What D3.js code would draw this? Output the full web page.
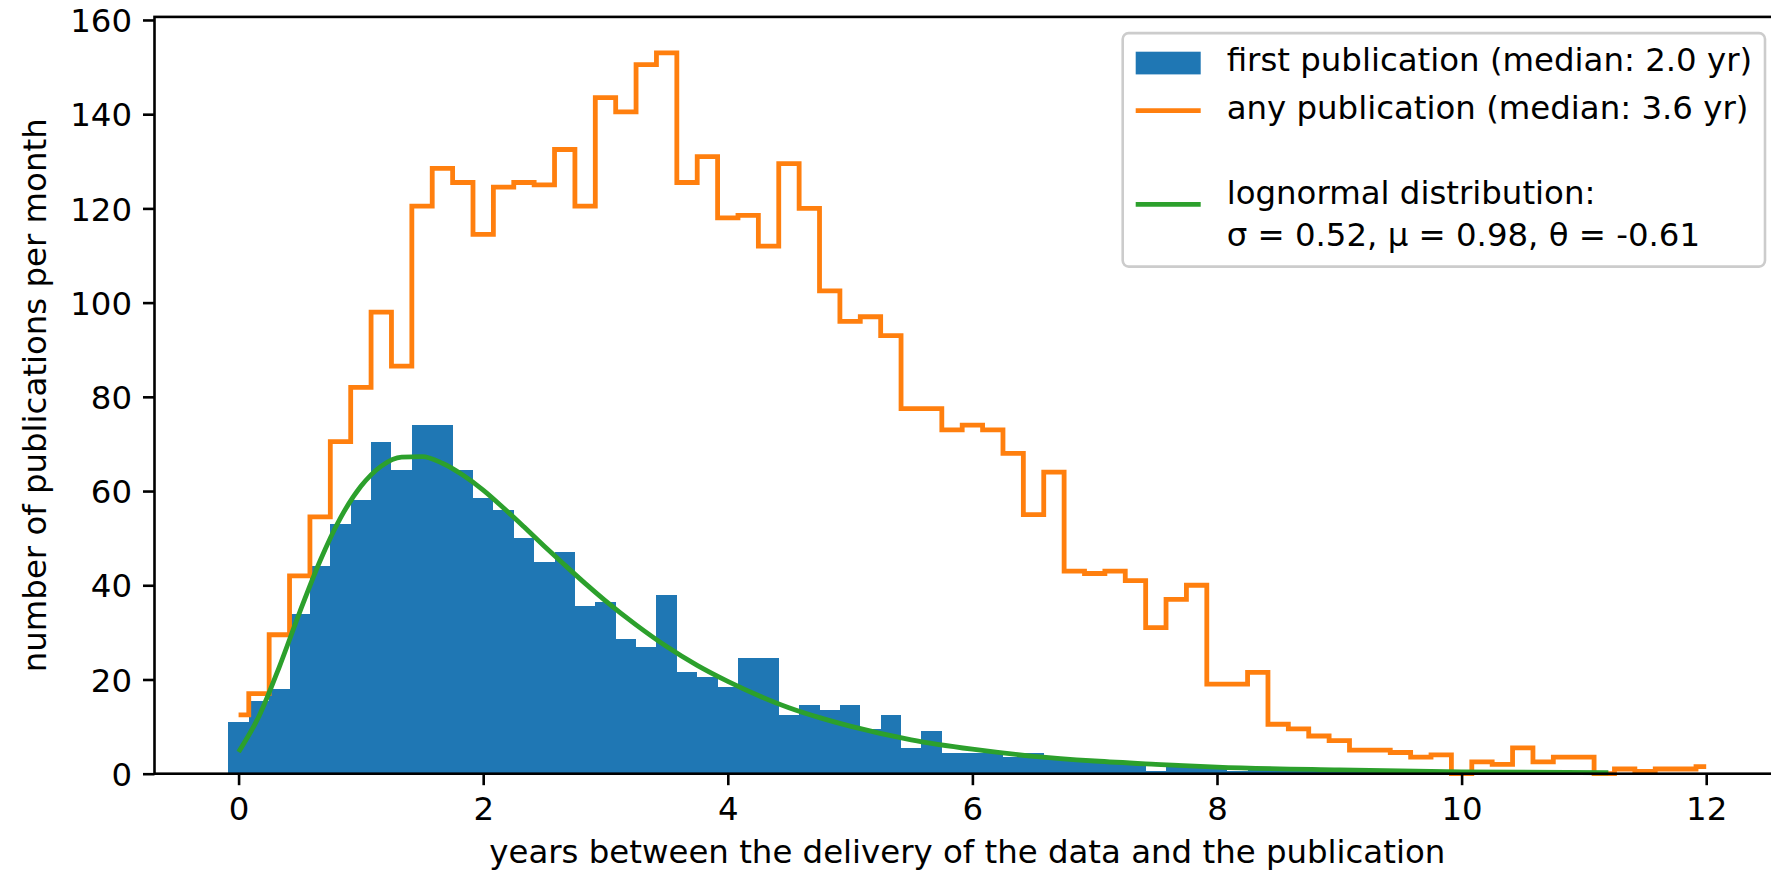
<!DOCTYPE html>
<html>
<head>
<meta charset="utf-8">
<script src="https://cdn.jsdelivr.net/npm/d3@7"></script>
<style>
  html, body { margin: 0; padding: 0; background: #fff; }
  svg { display: block; }
  text { font-family: "DejaVu Sans", sans-serif; fill: #000; }
</style>
</head>
<body>
<svg id="chart" width="1771" height="872"></svg>
<script>
// ---------------- data ----------------
// bin width: 2 months, bins centred on k/6 years
const binWidth = 1 / 6;

// first publication, per bin (blue bars)
const firstPub = [11, 15.5, 18, 34, 44, 53, 58, 70.5, 64.5, 74, 74, 64.5, 58.5, 56, 50, 45, 47,
  35.5, 36.5, 28.5, 27, 38, 21.5, 20.5, 18.5, 24.5, 24.5, 12.5, 14.5, 13.5, 14.5, 9.5, 12.5,
  5.5, 9, 4.5, 4.5, 4.5, 3.5, 4.5, 3.5, 3, 2.5, 2, 2, 0.5, 1.5, 1.5, 1, 0.5, 1, 1, 0.5, 0.5,
  0.5, 0.5, 0.5, 0.5, 0.5];

// any publication, per bin (orange step line)
const anyPub = [12.5, 17, 29.5, 42, 54.5, 70.5, 82, 98, 86.5, 120.5, 128.5, 125.5, 114.5,
  124.5, 125.5, 125, 132.5, 120.5, 143.5, 140.5, 150.5, 153, 125.5, 131, 118, 118.5, 112,
  129.5, 120, 102.5, 96, 97, 93, 77.5, 77.5, 73, 74, 73, 68, 55, 64, 43, 42.5, 43, 41, 31,
  37, 40, 19, 19, 21.5, 10.5, 9.5, 8, 7, 5, 5, 4.5, 3.5, 4, 0, 2.5, 2, 5.5, 2.5, 3.5, 3.5,
  0, 1, 0.5, 1, 1, 1.5];

// lognormal fit curve (green)
const fitX = [0, 0.1667, 0.3333, 0.5, 0.6667, 0.8333, 1, 1.1667, 1.3333, 1.5, 1.6667, 1.8333,
  2, 2.1667, 2.3333, 2.5, 2.6667, 2.8333, 3, 3.25, 3.5, 3.75, 4, 4.25, 4.5, 4.75, 5, 5.5, 6,
  6.5, 7, 7.5, 8, 9, 10, 11.2];
const fitY = [4.6, 12.2, 22.7, 34.3, 45.2, 54.3, 61.0, 65.3, 67.2, 67.3, 65.9, 63.4, 60.2,
  56.4, 52.4, 48.3, 44.3, 40.4, 36.7, 31.6, 27.0, 23.0, 19.6, 16.6, 14.0, 11.9, 10.1, 7.2,
  5.2, 3.7, 2.7, 2.0, 1.4, 0.8, 0.4, 0.2];

const xTicks = [0, 2, 4, 6, 8, 10, 12];
const yTicks = [0, 20, 40, 60, 80, 100, 120, 140, 160];

const xLabel = "years between the delivery of the data and the publication";
const yLabel = "number of publications per month";
const legendLabels = [
  ["first publication (median: 2.0 yr)"],
  ["any publication (median: 3.6 yr)"],
  ["lognormal distribution:", "σ = 0.52, μ = 0.98, θ = -0.61"]
];
const colors = { first: "#1f77b4", any: "#ff7f0e", fit: "#2ca02c" };

// ---------------- layout ----------------
const FS = 32.4;
const plot = { left: 154.5, right: 1780.1, top: 16.9, bottom: 773.7 };

const x = d3.scaleLinear().domain([-0.6875, 12.6042]).range([plot.left, plot.right]);
const y = d3.scaleLinear().domain([0, 160.65]).range([plot.bottom, plot.top]);

const svg = d3.select("#chart");
svg.append("rect").attr("width", 1771).attr("height", 872).attr("fill", "#fff");

// bars
svg.append("g").selectAll("rect").data(firstPub).join("rect")
  .attr("x", (d, i) => x(i * binWidth - binWidth / 2))
  .attr("width", (d, i) => x(i * binWidth + binWidth / 2) - x(i * binWidth - binWidth / 2))
  .attr("y", d => y(d))
  .attr("height", d => y(0) - y(d))
  .attr("fill", colors.first)
  .attr("shape-rendering", "crispEdges");

// orange step line (steps-mid)
const stepLine = d3.line().x((d, i) => x(i * binWidth)).y(d => y(d)).curve(d3.curveStep);
svg.append("path").datum(anyPub).attr("d", stepLine)
  .attr("fill", "none").attr("stroke", colors.any).attr("stroke-width", 4.8)
  .attr("stroke-linejoin", "miter").attr("stroke-linecap", "butt");

// green fit
const fitLine = d3.line().x(d => x(d[0])).y(d => y(d[1])).curve(d3.curveMonotoneX);
svg.append("path").datum(fitX.map((v, i) => [v, fitY[i]])).attr("d", fitLine)
  .attr("fill", "none").attr("stroke", colors.fit).attr("stroke-width", 4.8)
  .attr("stroke-linejoin", "round").attr("stroke-linecap", "butt");

// spines
svg.append("rect")
  .attr("x", plot.left).attr("y", plot.top)
  .attr("width", plot.right - plot.left).attr("height", plot.bottom - plot.top)
  .attr("fill", "none").attr("stroke", "#000").attr("stroke-width", 2.6);

// axes
const xAxis = svg.append("g").attr("transform", `translate(0,${plot.bottom})`)
  .call(d3.axisBottom(x).tickValues(xTicks).tickSize(11.5).tickPadding(10).tickFormat(d3.format("d")));
const yAxis = svg.append("g").attr("transform", `translate(${plot.left},0)`)
  .call(d3.axisLeft(y).tickValues(yTicks).tickSize(11.5).tickPadding(11).tickFormat(d3.format("d")));
[xAxis, yAxis].forEach(g => {
  g.select(".domain").remove();
  g.selectAll(".tick line").attr("stroke", "#000").attr("stroke-width", 2.6);
  g.selectAll(".tick text").attr("font-size", FS).attr("font-family", "DejaVu Sans").attr("fill", "#000");
});
xAxis.selectAll(".tick text").attr("dy", null).attr("y", 0)
  .attr("transform", `translate(0,${820 - plot.bottom})`);
yAxis.selectAll(".tick text").attr("dy", "0.36em");

// axis labels
svg.append("text").attr("x", (plot.left + plot.right) / 2).attr("y", 863.4)
  .attr("text-anchor", "middle").attr("font-size", FS).text(xLabel);
svg.append("text")
  .attr("transform", `translate(46,${(plot.top + plot.bottom) / 2}) rotate(-90)`)
  .attr("text-anchor", "middle").attr("font-size", FS).text(yLabel);

// legend
const lg = svg.append("g");
lg.append("rect").attr("x", 1122.7).attr("y", 33.1).attr("width", 1765 - 1122.7).attr("height", 266.6 - 33.1)
  .attr("rx", 6).attr("fill", "#fff").attr("fill-opacity", 0.8)
  .attr("stroke", "#cccccc").attr("stroke-width", 2.6);
const hx0 = 1135.7, hx1 = 1200.7, tx = 1226.7;
lg.append("rect").attr("x", hx0).attr("y", 51.7).attr("width", hx1 - hx0).attr("height", 22.7)
  .attr("fill", colors.first);
lg.append("line").attr("x1", hx0).attr("x2", hx1).attr("y1", 110.7).attr("y2", 110.7)
  .attr("stroke", colors.any).attr("stroke-width", 4.8);
lg.append("line").attr("x1", hx0).attr("x2", hx1).attr("y1", 204.4).attr("y2", 204.4)
  .attr("stroke", colors.fit).attr("stroke-width", 4.8);
const baselines = [[71.4], [119.1], [203.8, 245.6]];
legendLabels.forEach((lines, i) => {
  lines.forEach((t, j) => {
    lg.append("text").attr("x", tx).attr("y", baselines[i][j]).attr("font-size", FS).text(t);
  });
});
</script>
</body>
</html>
